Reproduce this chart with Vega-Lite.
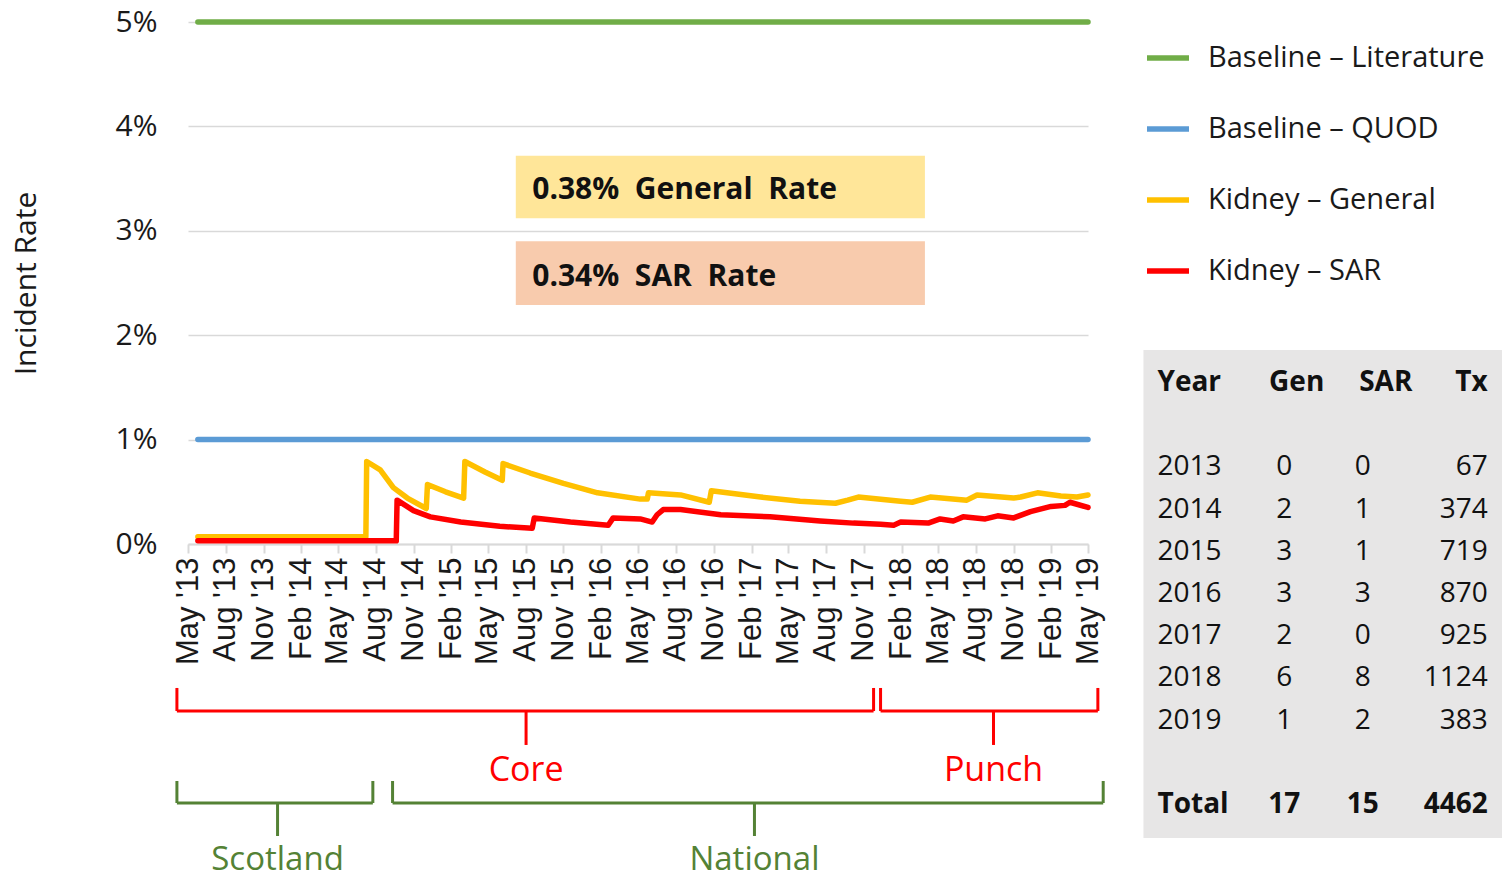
{
  "$schema": "https://vega.github.io/schema/vega-lite/v6.json",
  "width": 900,
  "height": 522,
  "autosize": {"type": "none"},
  "padding": {"left": 188, "top": 22, "right": 414, "bottom": 335},
  "background": "white",
  "config": {
    "view": {"stroke": null},
    "text": {"font": "Open Sans"},
    "axisX": {
      "labelOverlap": false,
      "labelFlush": false,
      "labelBound": false,
      "labelAngle": 270,
      "labelFont": "Liberation Sans",
      "labelFontSize": 31,
      "labelColor": "#1a1a1a",
      "labelPadding": 4,
      "grid": false,
      "tickColor": "#D9D9D9",
      "tickSize": 9,
      "tickWidth": 2,
      "domainColor": "#D9D9D9",
      "domainWidth": 2
    }
  },
  "datasets": {
    "series": [
      {"series": "Baseline – Literature", "date": "2013-05-25", "rate": 5},
      {"series": "Baseline – Literature", "date": "2019-05-01", "rate": 5},
      {"series": "Baseline – QUOD", "date": "2013-05-25", "rate": 1},
      {"series": "Baseline – QUOD", "date": "2019-05-01", "rate": 1},
      {"series": "Kidney – General", "date": "2013-05-25", "rate": 0.07},
      {"series": "Kidney – General", "date": "2014-07-08", "rate": 0.07},
      {"series": "Kidney – General", "date": "2014-07-10", "rate": 0.79},
      {"series": "Kidney – General", "date": "2014-08-12", "rate": 0.71},
      {"series": "Kidney – General", "date": "2014-09-13", "rate": 0.54},
      {"series": "Kidney – General", "date": "2014-10-17", "rate": 0.44},
      {"series": "Kidney – General", "date": "2014-12-02", "rate": 0.34},
      {"series": "Kidney – General", "date": "2014-12-05", "rate": 0.57},
      {"series": "Kidney – General", "date": "2015-01-18", "rate": 0.50},
      {"series": "Kidney – General", "date": "2015-03-03", "rate": 0.44},
      {"series": "Kidney – General", "date": "2015-03-06", "rate": 0.79},
      {"series": "Kidney – General", "date": "2015-04-24", "rate": 0.69},
      {"series": "Kidney – General", "date": "2015-06-05", "rate": 0.61},
      {"series": "Kidney – General", "date": "2015-06-07", "rate": 0.77},
      {"series": "Kidney – General", "date": "2015-08-12", "rate": 0.68},
      {"series": "Kidney – General", "date": "2015-11-01", "rate": 0.58},
      {"series": "Kidney – General", "date": "2016-01-23", "rate": 0.49},
      {"series": "Kidney – General", "date": "2016-05-06", "rate": 0.43},
      {"series": "Kidney – General", "date": "2016-05-23", "rate": 0.43},
      {"series": "Kidney – General", "date": "2016-05-26", "rate": 0.49},
      {"series": "Kidney – General", "date": "2016-08-12", "rate": 0.47},
      {"series": "Kidney – General", "date": "2016-10-21", "rate": 0.40},
      {"series": "Kidney – General", "date": "2016-10-26", "rate": 0.51},
      {"series": "Kidney – General", "date": "2017-02-23", "rate": 0.45},
      {"series": "Kidney – General", "date": "2017-05-30", "rate": 0.41},
      {"series": "Kidney – General", "date": "2017-08-24", "rate": 0.39},
      {"series": "Kidney – General", "date": "2017-09-23", "rate": 0.42},
      {"series": "Kidney – General", "date": "2017-10-19", "rate": 0.45},
      {"series": "Kidney – General", "date": "2018-01-30", "rate": 0.41},
      {"series": "Kidney – General", "date": "2018-02-27", "rate": 0.40},
      {"series": "Kidney – General", "date": "2018-04-12", "rate": 0.45},
      {"series": "Kidney – General", "date": "2018-07-10", "rate": 0.42},
      {"series": "Kidney – General", "date": "2018-08-04", "rate": 0.47},
      {"series": "Kidney – General", "date": "2018-11-01", "rate": 0.44},
      {"series": "Kidney – General", "date": "2018-11-18", "rate": 0.45},
      {"series": "Kidney – General", "date": "2018-12-29", "rate": 0.49},
      {"series": "Kidney – General", "date": "2019-02-24", "rate": 0.46},
      {"series": "Kidney – General", "date": "2019-04-04", "rate": 0.45},
      {"series": "Kidney – General", "date": "2019-05-01", "rate": 0.47},
      {"series": "Kidney – SAR", "date": "2013-05-25", "rate": 0.03},
      {"series": "Kidney – SAR", "date": "2014-09-20", "rate": 0.03},
      {"series": "Kidney – SAR", "date": "2014-09-22", "rate": 0.42},
      {"series": "Kidney – SAR", "date": "2014-11-01", "rate": 0.32},
      {"series": "Kidney – SAR", "date": "2014-12-12", "rate": 0.26},
      {"series": "Kidney – SAR", "date": "2015-02-24", "rate": 0.21},
      {"series": "Kidney – SAR", "date": "2015-05-30", "rate": 0.17},
      {"series": "Kidney – SAR", "date": "2015-08-17", "rate": 0.15},
      {"series": "Kidney – SAR", "date": "2015-08-22", "rate": 0.25},
      {"series": "Kidney – SAR", "date": "2015-11-18", "rate": 0.21},
      {"series": "Kidney – SAR", "date": "2016-02-18", "rate": 0.18},
      {"series": "Kidney – SAR", "date": "2016-03-01", "rate": 0.25},
      {"series": "Kidney – SAR", "date": "2016-05-06", "rate": 0.24},
      {"series": "Kidney – SAR", "date": "2016-06-04", "rate": 0.21},
      {"series": "Kidney – SAR", "date": "2016-06-16", "rate": 0.28},
      {"series": "Kidney – SAR", "date": "2016-07-01", "rate": 0.33},
      {"series": "Kidney – SAR", "date": "2016-08-12", "rate": 0.33},
      {"series": "Kidney – SAR", "date": "2016-11-18", "rate": 0.28},
      {"series": "Kidney – SAR", "date": "2017-03-18", "rate": 0.26},
      {"series": "Kidney – SAR", "date": "2017-07-18", "rate": 0.22},
      {"series": "Kidney – SAR", "date": "2017-10-07", "rate": 0.20},
      {"series": "Kidney – SAR", "date": "2017-12-12", "rate": 0.19},
      {"series": "Kidney – SAR", "date": "2018-01-13", "rate": 0.18},
      {"series": "Kidney – SAR", "date": "2018-01-30", "rate": 0.21},
      {"series": "Kidney – SAR", "date": "2018-04-07", "rate": 0.20},
      {"series": "Kidney – SAR", "date": "2018-05-06", "rate": 0.24},
      {"series": "Kidney – SAR", "date": "2018-06-07", "rate": 0.22},
      {"series": "Kidney – SAR", "date": "2018-07-01", "rate": 0.26},
      {"series": "Kidney – SAR", "date": "2018-08-24", "rate": 0.24},
      {"series": "Kidney – SAR", "date": "2018-09-23", "rate": 0.27},
      {"series": "Kidney – SAR", "date": "2018-11-01", "rate": 0.25},
      {"series": "Kidney – SAR", "date": "2018-12-12", "rate": 0.31},
      {"series": "Kidney – SAR", "date": "2019-01-31", "rate": 0.36},
      {"series": "Kidney – SAR", "date": "2019-03-06", "rate": 0.37},
      {"series": "Kidney – SAR", "date": "2019-03-18", "rate": 0.40},
      {"series": "Kidney – SAR", "date": "2019-05-01", "rate": 0.35}
    ],
    "periods": [
      {"period": "Core", "kind": "Sampling", "start": "2013-04-04", "end": "2017-11-25", "center": "2015-08-02"},
      {"period": "Punch", "kind": "Sampling", "start": "2017-12-12", "end": "2019-05-25", "center": "2018-09-13"},
      {"period": "Scotland", "kind": "Coverage", "start": "2013-04-04", "end": "2014-07-25", "center": "2013-12-05"},
      {"period": "National", "kind": "Coverage", "start": "2014-09-11", "end": "2019-06-07", "center": "2017-02-08"}
    ],
    "table": [
      {"Year": "2013", "Gen": 0, "SAR": 0, "Tx": 67},
      {"Year": "2014", "Gen": 2, "SAR": 1, "Tx": 374},
      {"Year": "2015", "Gen": 3, "SAR": 1, "Tx": 719},
      {"Year": "2016", "Gen": 3, "SAR": 3, "Tx": 870},
      {"Year": "2017", "Gen": 2, "SAR": 0, "Tx": 925},
      {"Year": "2018", "Gen": 6, "SAR": 8, "Tx": 1124},
      {"Year": "2019", "Gen": 1, "SAR": 2, "Tx": 383},
      {"Year": "Total", "Gen": 17, "SAR": 15, "Tx": 4462}
    ]
  },
  "resolve": {"scale": {"y": "independent"}},
  "layer": [
    {
      "layer": [
        {
          "data": {"name": "series"},
          "mark": {"type": "line", "strokeWidth": 5.5, "strokeCap": "round", "strokeJoin": "round"},
          "encoding": {
            "x": {
              "field": "date", "type": "temporal",
              "scale": {"type": "utc", "domain": [1367366400000, 1556668800000]},
              "axis": {
                "title": null,
                "values": [1367366400000, 1375315200000, 1383264000000, 1391212800000, 1398902400000, 1406851200000, 1414800000000, 1422748800000, 1430438400000, 1438387200000, 1446336000000, 1454284800000, 1462060800000, 1470009600000, 1477958400000, 1485907200000, 1493596800000, 1501545600000, 1509494400000, 1517443200000, 1525132800000, 1533081600000, 1541030400000, 1548979200000, 1556668800000],
                "tickCount": 40,
                "format": "%b '%y",
                "labelOverlap": false,
                "labelFont": "Liberation Sans",
                "labelFontSize": 31
              }
            },
            "y": {
              "field": "rate", "type": "quantitative",
              "scale": {"domain": [0, 5], "nice": false, "zero": false},
              "axis": {
                "title": "Incident Rate",
                "titleFont": "Open Sans",
                "titleFontSize": 30,
                "titleFontWeight": "normal",
                "titleColor": "#1a1a1a",
                "titlePadding": 74,
                "values": [0, 1, 2, 3, 4, 5],
                "labelExpr": "datum.value + '%'",
                "labelFont": "Open Sans",
                "labelFontSize": 30,
                "labelColor": "#1a1a1a",
                "labelPadding": 31,
                "domain": false,
                "ticks": false,
                "tickSize": 0,
                "gridColor": "#D9D9D9",
                "gridWidth": 1.5
              }
            },
            "color": {
              "field": "series", "type": "nominal",
              "scale": {
                "domain": ["Baseline – Literature", "Baseline – QUOD", "Kidney – General", "Kidney – SAR"],
                "range": ["#70AD47", "#5B9BD5", "#FFC000", "#FF0000"]
              },
              "legend": {
                "title": null,
                "orient": "none",
                "legendX": 956,
                "legendY": 12,
                "symbolType": "stroke",
                "symbolSize": 1764,
                "symbolStrokeWidth": 5.5,
                "labelFont": "Open Sans",
                "labelFontSize": 29,
                "labelColor": "#1a1a1a",
                "labelOffset": 16,
                "labelLimit": 500,
                "rowPadding": 32
              }
            }
          }
        },
        {
          "data": {"values": [{"panel": "table"}]},
          "mark": {"type": "rect", "color": "#E7E6E6"},
          "encoding": {
            "x": {"datum": {"year": 2019, "month": 9, "date": 13, "utc": true}, "type": "temporal"},
            "x2": {"datum": {"year": 2022, "month": 2, "date": 4, "utc": true}},
            "y": {"datum": 1.858, "type": "quantitative"},
            "y2": {"datum": -2.816}
          }
        },
        {
          "data": {"values": [{"note": "0.38%\u00a0 General\u00a0 Rate"}]},
          "layer": [
            {
              "mark": {"type": "rect", "color": "#FFE699"},
              "encoding": {
                "x": {"datum": {"year": 2015, "month": 7, "date": 8, "utc": true}, "type": "temporal"},
                "x2": {"datum": {"year": 2018, "month": 3, "date": 30, "utc": true}},
                "y": {"datum": 3.72, "type": "quantitative"},
                "y2": {"datum": 3.12}
              }
            },
            {
              "mark": {"type": "text", "align": "left", "baseline": "middle", "font": "Open Sans", "fontWeight": "bold", "fontSize": 30, "color": "#111111"},
              "encoding": {
                "x": {"datum": {"year": 2015, "month": 8, "date": 17, "utc": true}, "type": "temporal"},
                "y": {"datum": 3.394, "type": "quantitative"},
                "text": {"field": "note"}
              }
            }
          ]
        },
        {
          "data": {"values": [{"note": "0.34%\u00a0 SAR\u00a0 Rate"}]},
          "layer": [
            {
              "mark": {"type": "rect", "color": "#F8CBAD"},
              "encoding": {
                "x": {"datum": {"year": 2015, "month": 7, "date": 8, "utc": true}, "type": "temporal"},
                "x2": {"datum": {"year": 2018, "month": 3, "date": 30, "utc": true}},
                "y": {"datum": 2.90, "type": "quantitative"},
                "y2": {"datum": 2.29}
              }
            },
            {
              "mark": {"type": "text", "align": "left", "baseline": "middle", "font": "Open Sans", "fontWeight": "bold", "fontSize": 30, "color": "#111111"},
              "encoding": {
                "x": {"datum": {"year": 2015, "month": 8, "date": 17, "utc": true}, "type": "temporal"},
                "y": {"datum": 2.56, "type": "quantitative"},
                "text": {"field": "note"}
              }
            }
          ]
        },
        {
          "data": {"name": "periods"},
          "transform": [{"filter": "datum.kind == 'Sampling'"}],
          "layer": [
            {
              "mark": {"type": "rule", "color": "#FF0000", "strokeWidth": 3},
              "encoding": {
                "x": {"field": "start", "type": "temporal"},
                "x2": {"field": "end"},
                "y": {"datum": -1.6, "type": "quantitative"}
              }
            },
            {
              "mark": {"type": "rule", "color": "#FF0000", "strokeWidth": 3},
              "encoding": {
                "x": {"field": "start", "type": "temporal"},
                "y": {"datum": -1.379, "type": "quantitative"},
                "y2": {"datum": -1.6}
              }
            },
            {
              "mark": {"type": "rule", "color": "#FF0000", "strokeWidth": 3},
              "encoding": {
                "x": {"field": "end", "type": "temporal"},
                "y": {"datum": -1.379, "type": "quantitative"},
                "y2": {"datum": -1.6}
              }
            },
            {
              "mark": {"type": "rule", "color": "#FF0000", "strokeWidth": 3},
              "encoding": {
                "x": {"field": "center", "type": "temporal"},
                "y": {"datum": -1.6, "type": "quantitative"},
                "y2": {"datum": -1.925}
              }
            },
            {
              "mark": {"type": "text", "color": "#FF0000", "font": "Open Sans", "fontSize": 34, "baseline": "middle"},
              "encoding": {
                "x": {"field": "center", "type": "temporal"},
                "y": {"datum": -2.174, "type": "quantitative"},
                "text": {"field": "period"}
              }
            }
          ]
        },
        {
          "data": {"name": "periods"},
          "transform": [{"filter": "datum.kind == 'Coverage'"}],
          "layer": [
            {
              "mark": {"type": "rule", "color": "#548235", "strokeWidth": 3},
              "encoding": {
                "x": {"field": "start", "type": "temporal"},
                "x2": {"field": "end"},
                "y": {"datum": -2.481, "type": "quantitative"}
              }
            },
            {
              "mark": {"type": "rule", "color": "#548235", "strokeWidth": 3},
              "encoding": {
                "x": {"field": "start", "type": "temporal"},
                "y": {"datum": -2.27, "type": "quantitative"},
                "y2": {"datum": -2.481}
              }
            },
            {
              "mark": {"type": "rule", "color": "#548235", "strokeWidth": 3},
              "encoding": {
                "x": {"field": "end", "type": "temporal"},
                "y": {"datum": -2.27, "type": "quantitative"},
                "y2": {"datum": -2.481}
              }
            },
            {
              "mark": {"type": "rule", "color": "#548235", "strokeWidth": 3},
              "encoding": {
                "x": {"field": "center", "type": "temporal"},
                "y": {"datum": -2.481, "type": "quantitative"},
                "y2": {"datum": -2.797}
              }
            },
            {
              "mark": {"type": "text", "color": "#548235", "font": "Open Sans", "fontSize": 33, "baseline": "middle"},
              "encoding": {
                "x": {"field": "center", "type": "temporal"},
                "y": {"datum": -3.03, "type": "quantitative"},
                "text": {"field": "period"}
              }
            }
          ]
        }
      ]
    },
    {
      "data": {"name": "table"},
      "encoding": {
        "y": {
          "field": "Year", "type": "ordinal",
          "scale": {"type": "point", "domain": ["Year", "gap1", "2013", "2014", "2015", "2016", "2017", "2018", "2019", "gap2", "Total"], "range": [361, 783], "padding": 0},
          "axis": null
        }
      },
      "layer": [
        {
          "transform": [{"filter": "datum.Year != 'Total'"}],
          "mark": {"type": "text", "align": "left", "baseline": "middle", "font": "Open Sans", "fontSize": 28, "color": "#111111"},
          "encoding": {"x": {"datum": {"year": 2019, "month": 10, "date": 17, "utc": true}, "type": "temporal"}, "text": {"field": "Year"}}
        },
        {
          "transform": [{"filter": "datum.Year != 'Total'"}],
          "mark": {"type": "text", "align": "center", "baseline": "middle", "font": "Open Sans", "fontSize": 28, "color": "#111111"},
          "encoding": {"x": {"datum": {"year": 2020, "month": 8, "date": 21, "utc": true}, "type": "temporal"}, "text": {"field": "Gen", "type": "quantitative", "format": "d"}}
        },
        {
          "transform": [{"filter": "datum.Year != 'Total'"}],
          "mark": {"type": "text", "align": "center", "baseline": "middle", "font": "Open Sans", "fontSize": 28, "color": "#111111"},
          "encoding": {"x": {"datum": {"year": 2021, "month": 2, "date": 28, "utc": true}, "type": "temporal"}, "text": {"field": "SAR", "type": "quantitative", "format": "d"}}
        },
        {
          "transform": [{"filter": "datum.Year != 'Total'"}],
          "mark": {"type": "text", "align": "right", "baseline": "middle", "font": "Open Sans", "fontSize": 28, "color": "#111111"},
          "encoding": {"x": {"datum": {"year": 2021, "month": 12, "date": 29, "utc": true}, "type": "temporal"}, "text": {"field": "Tx", "type": "quantitative", "format": "d"}}
        },
        {
          "transform": [{"filter": "datum.Year == 'Total'"}],
          "mark": {"type": "text", "align": "left", "baseline": "middle", "font": "Open Sans", "fontWeight": "bold", "fontSize": 28, "color": "#111111"},
          "encoding": {"x": {"datum": {"year": 2019, "month": 10, "date": 17, "utc": true}, "type": "temporal"}, "text": {"field": "Year"}}
        },
        {
          "transform": [{"filter": "datum.Year == 'Total'"}],
          "mark": {"type": "text", "align": "center", "baseline": "middle", "font": "Open Sans", "fontWeight": "bold", "fontSize": 28, "color": "#111111"},
          "encoding": {"x": {"datum": {"year": 2020, "month": 8, "date": 21, "utc": true}, "type": "temporal"}, "text": {"field": "Gen", "type": "quantitative", "format": "d"}}
        },
        {
          "transform": [{"filter": "datum.Year == 'Total'"}],
          "mark": {"type": "text", "align": "center", "baseline": "middle", "font": "Open Sans", "fontWeight": "bold", "fontSize": 28, "color": "#111111"},
          "encoding": {"x": {"datum": {"year": 2021, "month": 2, "date": 28, "utc": true}, "type": "temporal"}, "text": {"field": "SAR", "type": "quantitative", "format": "d"}}
        },
        {
          "transform": [{"filter": "datum.Year == 'Total'"}],
          "mark": {"type": "text", "align": "right", "baseline": "middle", "font": "Open Sans", "fontWeight": "bold", "fontSize": 28, "color": "#111111"},
          "encoding": {"x": {"datum": {"year": 2021, "month": 12, "date": 29, "utc": true}, "type": "temporal"}, "text": {"field": "Tx", "type": "quantitative", "format": "d"}}
        },
        {
          "data": {"values": [{"header": "Year"}]},
          "mark": {"type": "text", "align": "left", "baseline": "middle", "font": "Open Sans", "fontWeight": "bold", "fontSize": 28, "color": "#111111"},
          "encoding": {"x": {"datum": {"year": 2019, "month": 10, "date": 17, "utc": true}, "type": "temporal"}, "y": {"datum": "Year", "type": "ordinal"}, "text": {"field": "header"}}
        },
        {
          "data": {"values": [{"header": "Gen"}]},
          "mark": {"type": "text", "align": "center", "baseline": "middle", "font": "Open Sans", "fontWeight": "bold", "fontSize": 28, "color": "#111111"},
          "encoding": {"x": {"datum": {"year": 2020, "month": 9, "date": 20, "utc": true}, "type": "temporal"}, "y": {"datum": "Year", "type": "ordinal"}, "text": {"field": "header"}}
        },
        {
          "data": {"values": [{"header": "SAR"}]},
          "mark": {"type": "text", "align": "center", "baseline": "middle", "font": "Open Sans", "fontWeight": "bold", "fontSize": 28, "color": "#111111"},
          "encoding": {"x": {"datum": {"year": 2021, "month": 4, "date": 25, "utc": true}, "type": "temporal"}, "y": {"datum": "Year", "type": "ordinal"}, "text": {"field": "header"}}
        },
        {
          "data": {"values": [{"header": "Tx"}]},
          "mark": {"type": "text", "align": "right", "baseline": "middle", "font": "Open Sans", "fontWeight": "bold", "fontSize": 28, "color": "#111111"},
          "encoding": {"x": {"datum": {"year": 2021, "month": 12, "date": 29, "utc": true}, "type": "temporal"}, "y": {"datum": "Year", "type": "ordinal"}, "text": {"field": "header"}}
        }
      ]
    }
  ]
}
